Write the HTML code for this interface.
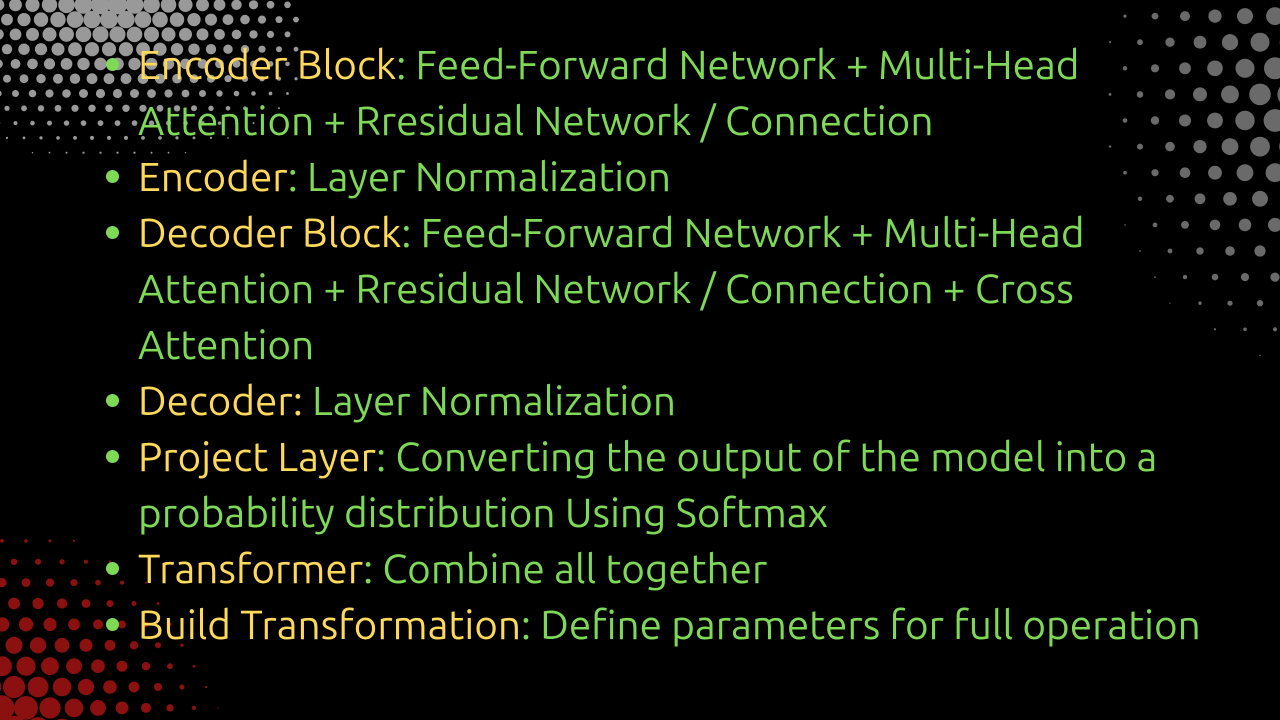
<!DOCTYPE html>
<html><head><meta charset="utf-8"><style>
html,body{margin:0;padding:0;background:#000;}
body{width:1280px;height:720px;position:relative;overflow:hidden;font-family:"Ubuntu","Liberation Sans",sans-serif;}
svg{position:absolute;left:0;top:0;}
ul{position:absolute;left:138px;top:36px;margin:0;padding:0;list-style:none;}
li{position:relative;font-size:40.5px;line-height:56px;color:#7ed957;white-space:nowrap;}
li::before{content:"";position:absolute;left:-32px;top:22px;width:13px;height:13px;border-radius:50%;background:#7ed957;}
.y{color:#ffd95a;}
</style></head><body>
<svg id="bg" width="1280" height="720"></svg>
<ul>
<li><span class="y">Encoder Block</span>: Feed-Forward Network + Multi-Head<br>Attention + Rresidual Network / Connection</li>
<li><span class="y">Encoder</span>: Layer Normalization</li>
<li><span class="y">Decoder Block</span>: Feed-Forward Network + Multi-Head<br>Attention + Rresidual Network / Connection + Cross<br>Attention</li>
<li><span class="y">Decoder:</span> Layer Normalization</li>
<li><span class="y">Project Layer</span>: Converting the output of the model into a<br>probability distribution Using Softmax</li>
<li><span class="y">Transformer</span>: Combine all together</li>
<li><span class="y">Build Transformation</span>: Define parameters for full operation</li>
</ul>
<script>
var s=document.getElementById('bg'),h='';
function field(cx,cy,sp,r0,D,col,sx,sy,x0,x1,y0,y1){
 var row=0;
 for(var y=y0;y<=y1;y+=sp*0.87,row++)for(var x=x0+(row%2?sp/2:0);x<=x1;x+=sp){
  var dx=(x-cx)/sx,dy=(y-cy)/sy,d=Math.sqrt(dx*dx+dy*dy);
  var r=r0*(1-d/D);if(r<0.6)continue;
  h+='<circle cx="'+x.toFixed(1)+'" cy="'+y.toFixed(1)+'" r="'+r.toFixed(1)+'" fill="'+col+'"/>';
 }}
field(110,0,17,10,230,'#999',1.15,0.75,-10,300,-10,200);
field(1295,100,30,13,230,'#6a6a6a',0.9,1.2,1080,1295,-10,360);
field(0,730,24,14,230,'#8b1010',1,0.95,-10,260,520,740);
s.innerHTML=h;
</script>
</body></html>
